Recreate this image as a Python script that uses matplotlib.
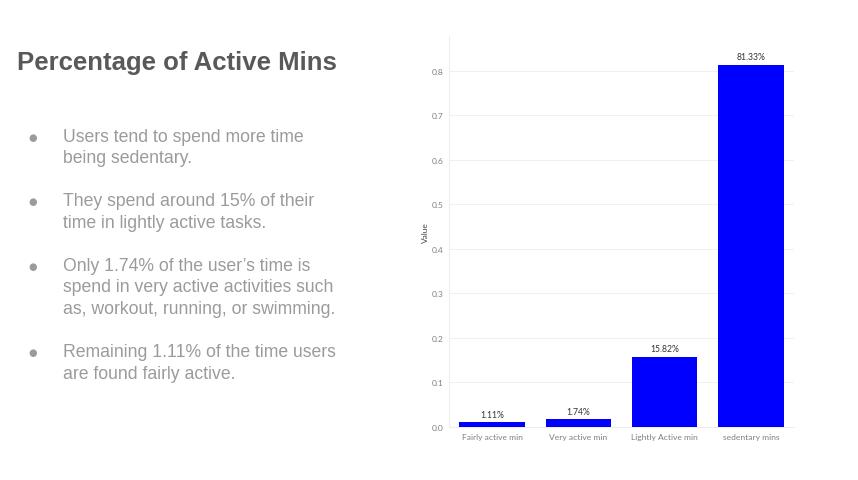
import matplotlib.pyplot as plt

# Datos del gráfico
categorias = ['Fairly active min', 'Very active min', 'Lightly Active min', 'sedentary mins']
valores = [0.0111, 0.0174, 0.1582, 0.8133]
etiquetas = ['1.11%', '1.74%', '15.82%', '81.33%']
y_ticks = [0.0, 0.1, 0.2, 0.3, 0.4, 0.5, 0.6, 0.7, 0.8]

titulo = 'Percentage of Active Mins'
parrafos = [
    ['Users tend to spend more time', 'being sedentary.'],
    ['They spend around 15% of their', 'time in lightly active tasks.'],
    ['Only 1.74% of the user\u2019s time is', 'spend in very active activities such',
     'as, workout, running, or swimming.'],
    ['Remaining 1.11% of the time users', 'are found fairly active.'],
]

W, H = 858, 481
fig = plt.figure(figsize=(W / 100, H / 100), dpi=100)
fig.patch.set_facecolor('white')


def fy(py):
    return 1 - py / H


# Título y viñetas
fig.text(17 / W, fy(70), titulo, fontsize=18.5, fontweight='bold', color='#595959',
         family='Liberation Sans', va='baseline', ha='left')

gris = '#9b9b9b'
y = 141.7
for p in parrafos:
    fig.text(28.5 / W, fy(y - 1), '\u25cf', fontsize=7, color=gris, family='DejaVu Sans',
             va='baseline', ha='left')
    for linea in p:
        fig.text(63 / W, fy(y), linea, fontsize=12.7, color=gris,
                 family='Liberation Sans', va='baseline', ha='left')
        y += 21.6
    y += 21.4

# Gráfico de barras
ax = fig.add_axes([449 / W, 1 - 428 / H, (794 - 449) / W, (428 - 37) / H])
x = range(len(categorias))
barras = ax.bar(x, valores, width=0.76, color='#0000ff', zorder=3)
for b, t in zip(barras, etiquetas):
    ax.annotate(t, (b.get_x() + b.get_width() / 2, b.get_height()),
                xytext=(0, 2.5), textcoords='offset points', ha='center', va='bottom',
                fontsize=6.2, color='#333333', family='Lato')

ax.set_xlim(-0.5, 3.5)
ax.set_ylim(0, 0.878)
ax.set_yticks(y_ticks)
ax.set_yticklabels([f'{v:.1f}' for v in y_ticks])
ax.set_xticks(list(x))
ax.set_xticklabels(categorias)
ax.tick_params(axis='both', length=0, labelsize=6.1, labelcolor='#808080', pad=4)
for lbl in ax.get_xticklabels() + ax.get_yticklabels():
    lbl.set_family('Lato')
ax.grid(axis='y', color='#f0f0f0', linewidth=0.8, zorder=0)
for lado in ['top', 'right']:
    ax.spines[lado].set_visible(False)
ax.spines['left'].set_color('#eeeeee')
ax.spines['bottom'].set_color('#eeeeee')
ax.set_ylabel('Value', fontsize=6, color='#444444', family='Lato', labelpad=2)

plt.savefig('out.png', dpi=100)
